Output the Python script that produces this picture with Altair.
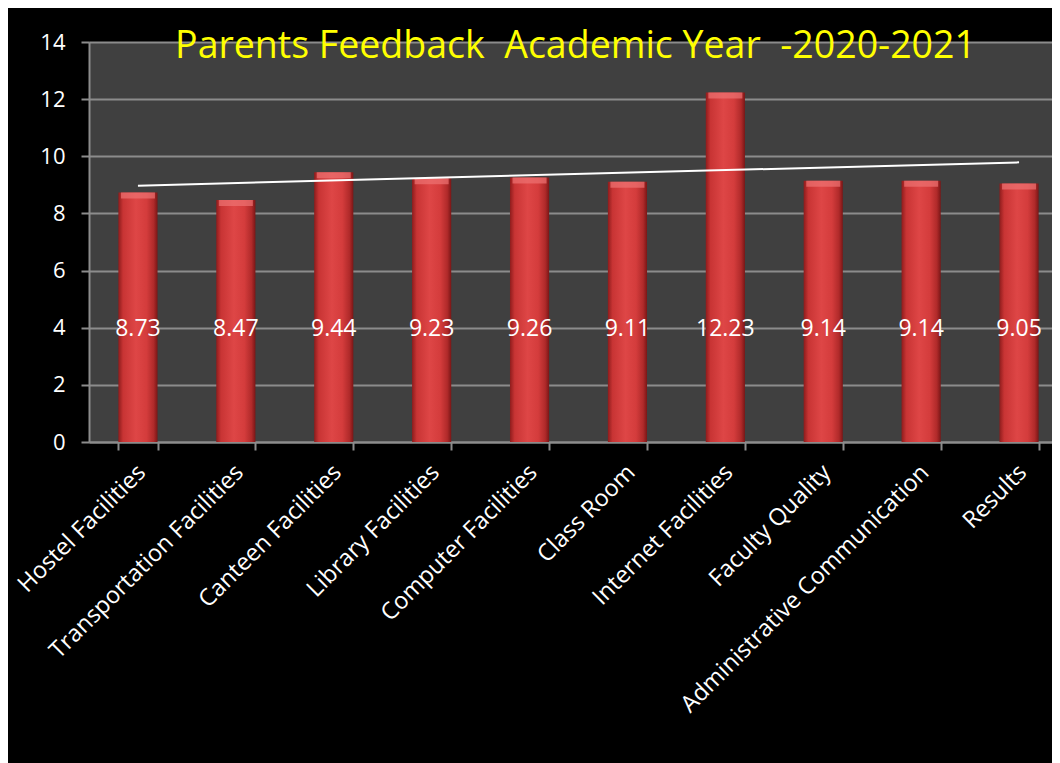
import altair as alt
import pandas as pd

categories = ["Hostel Facilities", "Transportation Facilities", "Canteen Facilities",
              "Library Facilities", "Computer Facilities", "Class Room",
              "Internet Facilities", "Faculty Quality", "Administrative Communication",
              "Results"]
scores = [8.73, 8.47, 9.44, 9.23, 9.26, 9.11, 12.23, 9.14, 9.14, 9.05]
y_ticks = [0, 2, 4, 6, 8, 10, 12, 14]
title_text = "Parents Feedback\u00a0 Academic Year\u00a0 -2020-2021"
label_level = 3.95

df = pd.DataFrame({"cat": categories, "score": scores,
                   "idx": list(range(1, len(categories) + 1)),
                   "lab": [f"{v:.2f}" for v in scores],
                   "lab_y": [label_level] * len(categories)})

FONT = "Open Sans"
W, H = 963, 400
XR = [0, 979]

x_scale = alt.Scale(paddingInner=0.6, paddingOuter=0.3, range=XR)
x_enc = alt.X("cat:N", sort=categories, title=None, scale=x_scale,
              axis=alt.Axis(labelAngle=-45, labelColor="white", labelFont=FONT,
                            labelFontSize=23.5, tickBand="extent", tickColor="#8c8c8c",
                            tickSize=8, tickWidth=2, domainColor="#8c8c8c", domainWidth=2,
                            labelPadding=10, labelOffset=-5, grid=False, labelLimit=500))
y_scale = alt.Scale(domain=[0, 14], nice=False)

bar_grad = alt.Gradient(
    gradient="linear", x1=0, x2=1, y1=0, y2=0,
    stops=[alt.GradientStop(color="#8e1c1c", offset=0),
           alt.GradientStop(color="#c83434", offset=0.12),
           alt.GradientStop(color="#de4646", offset=0.45),
           alt.GradientStop(color="#d43c3c", offset=0.72),
           alt.GradientStop(color="#b02a2a", offset=0.9),
           alt.GradientStop(color="#7a1616", offset=1)])

bars = alt.Chart(df).mark_bar(color=bar_grad).encode(
    x=x_enc,
    y=alt.Y("score:Q", scale=y_scale, title=None,
            axis=alt.Axis(values=y_ticks, labelColor="white", labelFont=FONT,
                          labelFontSize=22, tickColor="#8c8c8c", tickSize=8, tickWidth=2,
                          domainColor="#8c8c8c", domainWidth=2, labelPadding=16,
                          gridColor="#8c8c8c", gridWidth=2, gridOpacity=1))
)

caps = alt.Chart(df).mark_tick(color="#ee7474", thickness=6, size=34, yOffset=3).encode(
    x=alt.X("cat:N", sort=categories),
    y=alt.Y("score:Q")
)

labels = alt.Chart(df).mark_text(color="white", font=FONT, fontSize=23).encode(
    x=alt.X("cat:N", sort=categories),
    y=alt.Y("lab_y:Q"),
    text="lab:N"
)

trend = alt.Chart(df).transform_regression(
    "idx", "score", method="linear", extent=[1, len(categories)]
).mark_line(color="white", strokeWidth=2).encode(
    x=alt.X("idx:Q", scale=alt.Scale(domain=[0.5, len(categories) + 0.5], nice=False,
                                     range=XR),
            axis=None),
    y=alt.Y("score:Q", scale=y_scale)
)

inner = alt.layer(bars, caps, labels)

chart = alt.layer(inner, trend).resolve_scale(x="independent").properties(
    width=W, height=H,
    background="#000000",
    padding={"left": 81, "top": 34, "right": 0, "bottom": 321},
    autosize=alt.AutoSizeParams(type="none"),
    title=alt.TitleParams(title_text, color="#ffff00", font=FONT, fontSize=37.5,
                          fontWeight="normal", anchor="middle", baseline="alphabetic",
                          offset=-38, dy=26, dx=5)
).configure_view(fill="#404040", stroke=None)

chart.save("out.html", embed_options={"renderer": "svg", "actions": False})
